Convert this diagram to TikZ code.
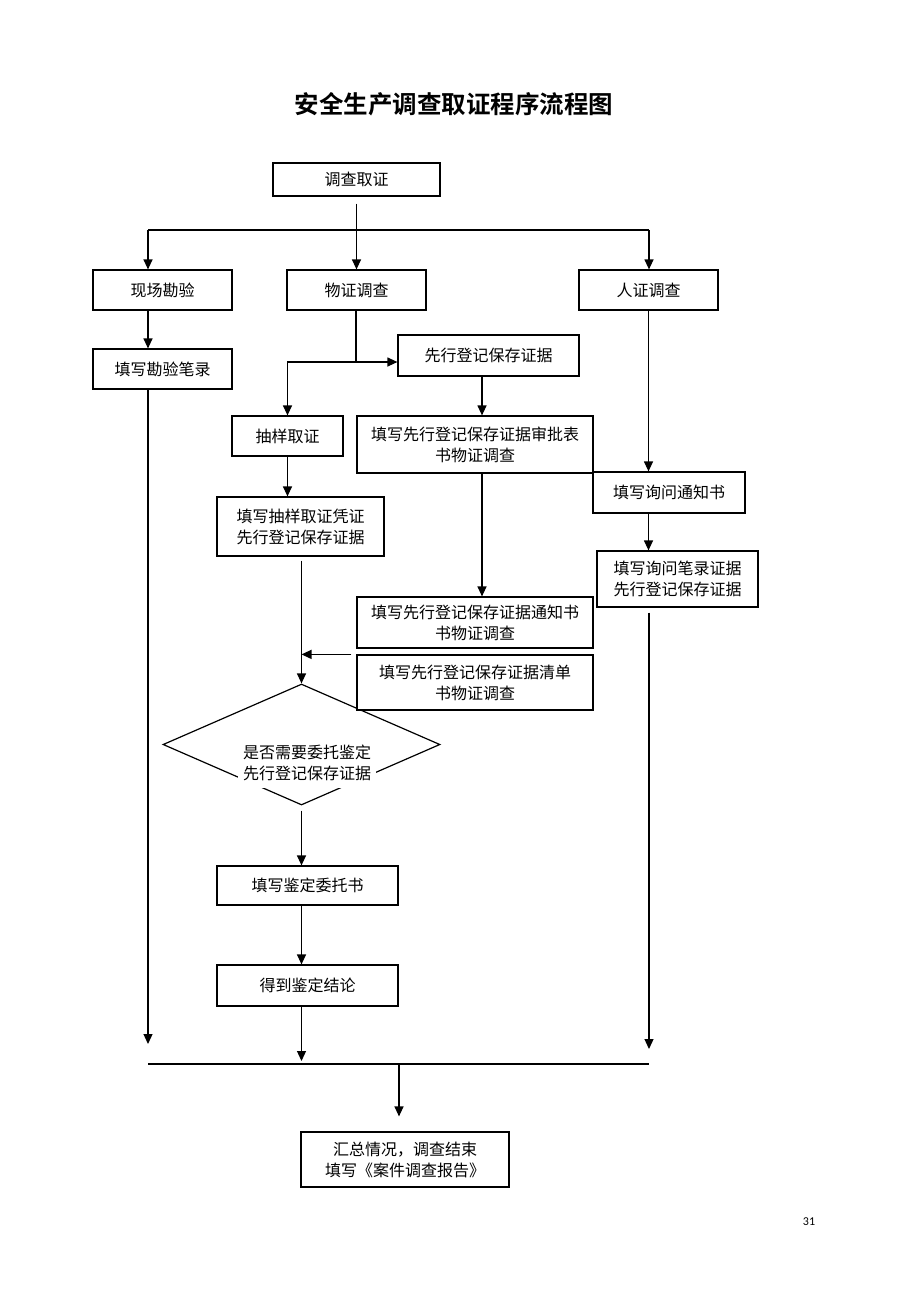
\documentclass[tikz,border=0pt]{standalone}
\usepackage{fontspec}
\usetikzlibrary{arrows.meta,shapes.geometric}
\newfontfamily\cjk{Noto Sans CJK SC}
\newfontfamily\cjkb{Noto Sans CJK SC Bold}
\newfontfamily\pgno{Carlito}

\begin{document}
\begin{tikzpicture}[x=1pt,y=-1pt,line width=1.2pt,%
        bx/.style={rectangle, draw, fill=white, inner sep=0pt,%
                        align=center, font=\cjk\fontsize{16}{21}\selectfont},
        arr/.style={-{Triangle[length=10pt,width=9pt]}}]
    \useasboundingbox (0,0) rectangle (920,1302);
    \node[font=\cjkb\fontsize{24.5}{28}\selectfont] (title) at (454,104) {安全生产调查取证程序流程图};
    % decision first, boxes lie over it
    \node[diamond, draw, inner sep=0pt, minimum width=277pt, minimum height=121pt] (pd) at (301.5,744.5) {};
    \node[fill=white, inner xsep=5pt, inner ysep=7pt, align=center,%
          font=\cjk\fontsize{16}{21}\selectfont] (pdt) at (307,763) {是否需要委托鉴定\\先行登记保存证据};
    % top row
    \node[bx, minimum width=167pt, minimum height=33pt] (dczq) at (356.5,179.5) {调查取证};
    \node[bx, minimum width=139pt, minimum height=40pt] (xcky) at (162.5,290) {现场勘验};
    \node[bx, minimum width=139pt, minimum height=40pt] (wzdc) at (356.5,290) {物证调查};
    \node[bx, minimum width=139pt, minimum height=40pt] (rzdc) at (648.5,290) {人证调查};
    % left column
    \node[bx, minimum width=139pt, minimum height=40pt] (txbl) at (162.5,369) {填写勘验笔录};
    % middle
    \node[bx, minimum width=181pt, minimum height=41pt] (xxdj) at (488.5,355.5) {先行登记保存证据};
    \node[bx, minimum width=111pt, minimum height=40pt] (cyqz) at (287.5,436) {抽样取证};
    \node[bx, minimum width=236pt, minimum height=57pt] (spb) at (475,444.5) {填写先行登记保存证据审批表\\书物证调查};
    \node[bx, minimum width=167pt, minimum height=59pt] (cypz) at (300.5,526.5) {填写抽样取证凭证\\先行登记保存证据};
    \node[bx, minimum width=236pt, minimum height=51pt] (tzs) at (475,622.5) {填写先行登记保存证据通知书\\书物证调查};
    \node[bx, minimum width=236pt, minimum height=55pt] (qd) at (475,682.5) {填写先行登记保存证据清单\\书物证调查};
    % right column
    \node[bx, minimum width=152pt, minimum height=41pt] (xwtz) at (669,492.5) {填写询问通知书};
    \node[bx, minimum width=161pt, minimum height=56pt] (xwbl) at (677.5,579) {填写询问笔录证据\\先行登记保存证据};
    % below the decision
    \node[bx, minimum width=181pt, minimum height=39pt] (wts) at (307.5,885.5) {填写鉴定委托书};
    \node[bx, minimum width=181pt, minimum height=41pt] (jl) at (307.5,985.5) {得到鉴定结论};
    \node[bx, minimum width=208pt, minimum height=55pt] (hz) at (405,1159.5) {汇总情况，调查结束\\填写《案件调查报告》};
    \node[font=\pgno\fontsize{12}{14}\selectfont] (pg) at (809,1222) {31};
    % junctions
    \coordinate (tl) at (148,230);
    \coordinate (tr) at (649,230);
    \coordinate (fork) at (356,362);
    \coordinate (endl) at (148,1044);
    \coordinate (endr) at (649,1049);
    \coordinate (bl) at (148,1064);
    \coordinate (br) at (649,1064);
    \coordinate (bm) at (399,1064);
    % connectors
    \draw[arr, shorten <=7pt] (dczq) -- (wzdc);
    \draw (tl) -- (tr);
    \draw[arr] (tl) -- (tl |- xcky.north);
    \draw[arr] (tr) -- (tr |- rzdc.north);
    \draw[arr] (xcky.south -| tl) -- (tl |- txbl.north);
    \draw[arr] (txbl.south -| tl) -- (endl);
    \draw (wzdc.south -| fork) -- (fork);
    \draw[arr] (fork) -- (fork -| xxdj.west);
    \draw[arr] (fork) -| (cyqz.north);
    \draw[arr] ([xshift=-6.5pt]xxdj.south) -- ([xshift=-6.5pt]xxdj.south |- spb.north);
    \draw[arr] ([xshift=7pt]spb.south) -- ([xshift=7pt]tzs.north);
    \draw[arr] (cyqz.south) -- (cyqz.south |- cypz.north);
    \draw[arr, shorten <=4pt] (pd.north |- cypz.south) -- (pd.north);
    \draw[arr] ([xshift=-5pt]qd.north west) -- (qd.north west -| pd.north);
    \draw[arr] (rzdc.south) -- (rzdc.south |- xwtz.north);
    \draw[arr] (xwtz.south -| rzdc.south) -- (rzdc.south |- xwbl.north);
    \draw[arr, shorten <=5pt] (xwbl.south -| endr) -- (endr);
    \draw[arr, shorten <=5pt] (pd.south) -- (pd.south |- wts.north);
    \draw[arr] (wts.south -| pd.south) -- (pd.south |- jl.north);
    \draw[arr, shorten >=3pt] (jl.south -| pd.south) -- (pd.south |- bl);
    \draw (bl) -- (br);
    \draw[arr, shorten >=15pt] (bm) -- (bm |- hz.north);
\end{tikzpicture}
\end{document}
